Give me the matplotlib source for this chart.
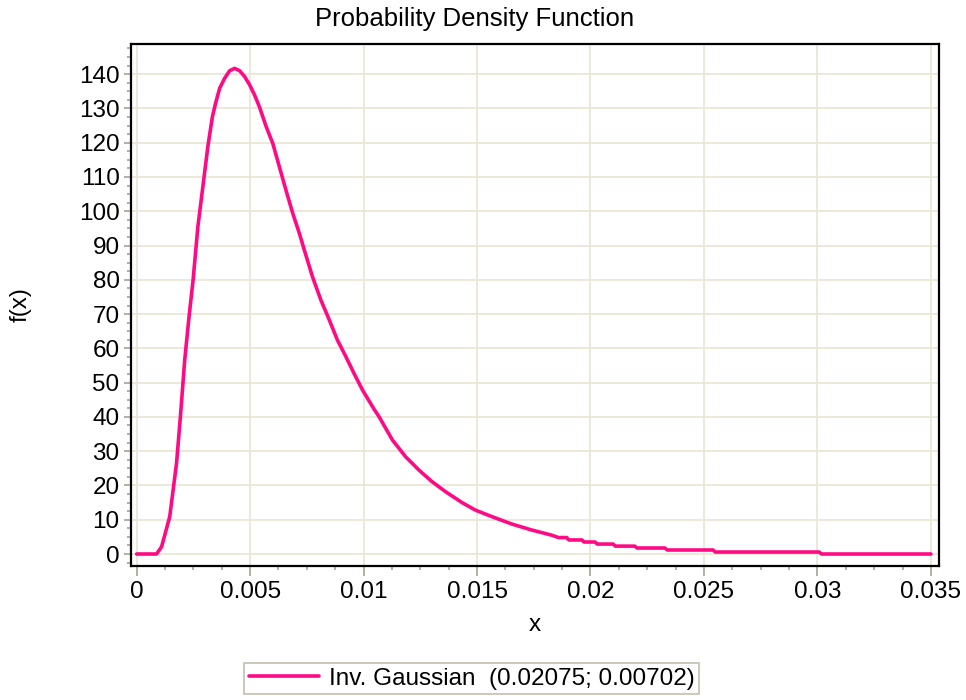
import matplotlib
matplotlib.use("Agg")
import matplotlib.pyplot as plt
from matplotlib.ticker import MultipleLocator, FixedLocator

plt.rcParams['font.family'] = ['Liberation Sans', 'DejaVu Sans']

# Data
x_vals = [0.0, 0.00088, 0.0011, 0.00124, 0.00146, 0.00161, 0.00176, 0.00193, 0.00212,
          0.00231, 0.00249, 0.0027, 0.00292, 0.00314, 0.00334, 0.00348, 0.00366, 0.00388,
          0.0041, 0.00432, 0.00454, 0.00476, 0.00498, 0.0052, 0.00541, 0.00571, 0.006,
          0.00629, 0.00658, 0.00688, 0.00717, 0.00739, 0.00775, 0.00812, 0.00849, 0.00885,
          0.00922, 0.00958, 0.00995, 0.01046, 0.01068, 0.01127, 0.01185, 0.01244, 0.01302,
          0.01361, 0.01434, 0.01493, 0.01566, 0.01653, 0.01741, 0.01829,
          0.01859, 0.01895, 0.01905, 0.01962, 0.01972, 0.02020, 0.02030, 0.02100, 0.02110,
          0.02195, 0.02205, 0.02328, 0.02338, 0.02540, 0.02550, 0.03008, 0.03018, 0.035]
y_vals = [0.0, 0.0, 2.1, 5.5, 10.9, 18.7, 26.5, 40.1, 56.6,
          69.2, 80.0, 95.5, 107.2, 118.9, 127.6, 131.5, 135.9, 138.8,
          141.0, 141.7, 141.0, 139.3, 136.9, 133.9, 130.5, 124.7, 119.8,
          113.0, 106.2, 99.4, 93.6, 88.7, 80.9, 74.1, 68.3, 62.4,
          57.6, 52.7, 47.9, 42.3, 40.1, 33.3, 28.4, 24.5, 21.1,
          18.2, 15.0, 12.8, 10.9, 8.75, 7.0, 5.5,
          4.8, 4.8, 4.1, 4.1, 3.5, 3.5, 2.9, 2.9, 2.3,
          2.3, 1.75, 1.75, 1.17, 1.17, 0.58, 0.58, 0.0, 0.0]

x_ticks = [0, 0.005, 0.01, 0.015, 0.02, 0.025, 0.03, 0.035]
x_tick_labels = ["0", "0.005", "0.01", "0.015", "0.02", "0.025", "0.03", "0.035"]
y_ticks = list(range(0, 141, 10))
series_label = "Inv. Gaussian  (0.02075; 0.00702)"

W, H = 966, 700
fig = plt.figure(figsize=(W / 100, H / 100), dpi=100)
ax = fig.add_axes([130.7 / W, 1 - 566 / H, (939.3 - 130.7) / W, (566 - 44) / H])

grid_c = '#ebe7d7'
tick_c = '#9e9a8a'
line_c = '#ff0a84'

ax.set_xlim(-0.00026, 0.03537)
ax.set_ylim(-3.5, 148.8)

ax.xaxis.set_major_locator(FixedLocator(x_ticks))
ax.set_xticklabels(x_tick_labels)
ax.xaxis.set_minor_locator(MultipleLocator(0.00125))
ax.yaxis.set_major_locator(FixedLocator(y_ticks))
ax.yaxis.set_minor_locator(MultipleLocator(2.5))

ax.grid(True, which='major', color=grid_c, linewidth=1.3, zorder=0)
ax.set_axisbelow(True)

ax.plot(x_vals, y_vals, color=line_c, linewidth=2.6, label=series_label, zorder=3,
        solid_joinstyle='round', solid_capstyle='round')

for s in ax.spines.values():
    s.set_color('black')
    s.set_linewidth(1.6)

ax.tick_params(axis='both', which='major', color=tick_c, width=1.1, labelsize=17.5,
               labelcolor='black')
ax.tick_params(axis='x', which='major', length=7.5, pad=3)
ax.tick_params(axis='y', which='major', length=5, pad=3)
ax.tick_params(axis='both', which='minor', color=tick_c, width=1.1, length=3.2)
ax.tick_params(top=False, right=False, which='both')

ax.set_xlabel('x', fontsize=17.5, labelpad=8)
ax.set_ylabel('f(x)', fontsize=17.5)
ax.yaxis.set_label_coords(-0.122, 0.5)

fig.text(474.5 / W, 1 - 19 / H, 'Probability Density Function', fontsize=18.5,
         ha='center', va='center')

leg = fig.legend(loc='center', bbox_to_anchor=(471.5 / W, 1 - 678.5 / H), fontsize=17.5,
                 frameon=True, fancybox=False, handlelength=2.9, handletextpad=0.4,
                 borderpad=0.2, borderaxespad=0)
leg.get_frame().set_edgecolor('#b4ae9c')
leg.get_frame().set_linewidth(1.2)

fig.savefig('out.png', dpi=100)
